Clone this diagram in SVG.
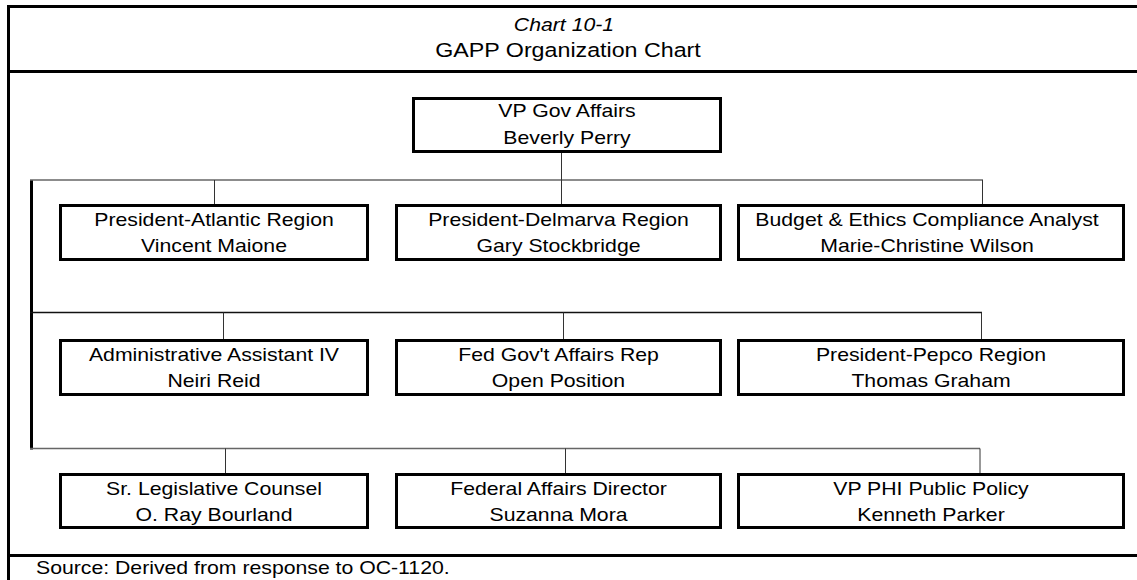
<svg xmlns="http://www.w3.org/2000/svg" width="1137" height="580" viewBox="0 0 1137 580">
<style>
.frame{stroke:#000;stroke-width:3;fill:none}
.box{fill:#fff;stroke:#000;stroke-width:3}
.t{font-family:"Liberation Sans",Arial,sans-serif;font-size:18px;fill:#000;text-anchor:middle}
.hl{stroke:#666;stroke-width:1.3;fill:none}
.hd{stroke:#111;stroke-width:1.3;fill:none}
.vl{stroke:#333;stroke-width:1;fill:none}
</style>
<rect width="1137" height="580" fill="#fff"/>
<g id="frame">
<line class="frame" x1="8.5" y1="5" x2="8.5" y2="580"/>
<line class="frame" x1="7" y1="6.5" x2="1137" y2="6.5"/>
<line class="frame" x1="7" y1="71.5" x2="1137" y2="71.5"/>
<line class="frame" x1="7" y1="555.5" x2="1137" y2="555.5"/>
<text class="t" font-style="italic" transform="translate(564,30.5) scale(1.18,1)">Chart 10-1</text>
<text class="t" style="font-size:19.7px" transform="translate(568,56.5) scale(1.18,1)">GAPP Organization Chart</text>
<text class="t" style="text-anchor:start" transform="translate(36,573.5) scale(1.18,1)">Source: Derived from response to OC-1120.</text>
</g>
<g id="connectors">
<line x1="31.5" y1="180" x2="31.5" y2="449.5" stroke="#000" stroke-width="3"/>
<line class="hl" x1="30" y1="180" x2="983" y2="180"/>
<line class="vl" x1="214.5" y1="180" x2="214.5" y2="205"/>
<line class="vl" x1="561.5" y1="152" x2="561.5" y2="205"/>
<line class="vl" x1="982.5" y1="180" x2="982.5" y2="205"/>
<line class="hd" x1="30" y1="312.5" x2="982" y2="312.5"/>
<line class="vl" x1="223.5" y1="312.5" x2="223.5" y2="340"/>
<line class="vl" x1="563.5" y1="312.5" x2="563.5" y2="340"/>
<line class="vl" x1="981.5" y1="312.5" x2="981.5" y2="340"/>
<line class="hl" x1="30" y1="448.5" x2="980" y2="448.5"/>
<line class="vl" x1="225.5" y1="448.5" x2="225.5" y2="474"/>
<line class="vl" x1="565.5" y1="448.5" x2="565.5" y2="474"/>
<line class="vl" x1="980" y1="448.5" x2="980" y2="474"/>
</g>
<g id="vp">
<rect class="box" x="413.5" y="98.5" width="307" height="53"/>
<text class="t" transform="translate(567,117) scale(1.18,1)">VP Gov Affairs</text>
<text class="t" transform="translate(567,144) scale(1.18,1)">Beverly Perry</text>
</g>
<g id="atlantic">
<rect class="box" x="60.5" y="205.5" width="307" height="54"/>
<text class="t" transform="translate(214,225.5) scale(1.18,1)">President-Atlantic Region</text>
<text class="t" transform="translate(214,251.5) scale(1.18,1)">Vincent Maione</text>
</g>
<g id="delmarva">
<rect class="box" x="396.5" y="205.5" width="324" height="54"/>
<text class="t" transform="translate(558.5,225.5) scale(1.18,1)">President-Delmarva Region</text>
<text class="t" transform="translate(558.5,251.5) scale(1.18,1)">Gary Stockbridge</text>
</g>
<g id="budget">
<rect class="box" x="738.5" y="205.5" width="385" height="54"/>
<text class="t" transform="translate(927,225.5) scale(1.18,1)">Budget &amp; Ethics Compliance Analyst</text>
<text class="t" transform="translate(927,251.5) scale(1.18,1)">Marie-Christine Wilson</text>
</g>
<g id="admin">
<rect class="box" x="60.5" y="340.5" width="307" height="54"/>
<text class="t" transform="translate(214,360.5) scale(1.18,1)">Administrative Assistant IV</text>
<text class="t" transform="translate(214,386.5) scale(1.18,1)">Neiri Reid</text>
</g>
<g id="fedgov">
<rect class="box" x="396.5" y="340.5" width="324" height="54"/>
<text class="t" transform="translate(558.5,360.5) scale(1.18,1)">Fed Gov't Affairs Rep</text>
<text class="t" transform="translate(558.5,386.5) scale(1.18,1)">Open Position</text>
</g>
<g id="pepco">
<rect class="box" x="738.5" y="340.5" width="385" height="54"/>
<text class="t" transform="translate(931,360.5) scale(1.18,1)">President-Pepco Region</text>
<text class="t" transform="translate(931,386.5) scale(1.18,1)">Thomas Graham</text>
</g>
<g id="counsel">
<rect class="box" x="60.5" y="474.5" width="307" height="53"/>
<text class="t" transform="translate(214,494.5) scale(1.18,1)">Sr. Legislative Counsel</text>
<text class="t" transform="translate(214,520.5) scale(1.18,1)">O. Ray Bourland</text>
</g>
<g id="fedaffairs">
<rect class="box" x="396.5" y="474.5" width="324" height="53"/>
<text class="t" transform="translate(558.5,494.5) scale(1.18,1)">Federal Affairs Director</text>
<text class="t" transform="translate(558.5,520.5) scale(1.18,1)">Suzanna Mora</text>
</g>
<g id="phi">
<rect class="box" x="738.5" y="474.5" width="385" height="53"/>
<text class="t" transform="translate(931,494.5) scale(1.18,1)">VP PHI Public Policy</text>
<text class="t" transform="translate(931,520.5) scale(1.18,1)">Kenneth Parker</text>
</g>
</svg>
